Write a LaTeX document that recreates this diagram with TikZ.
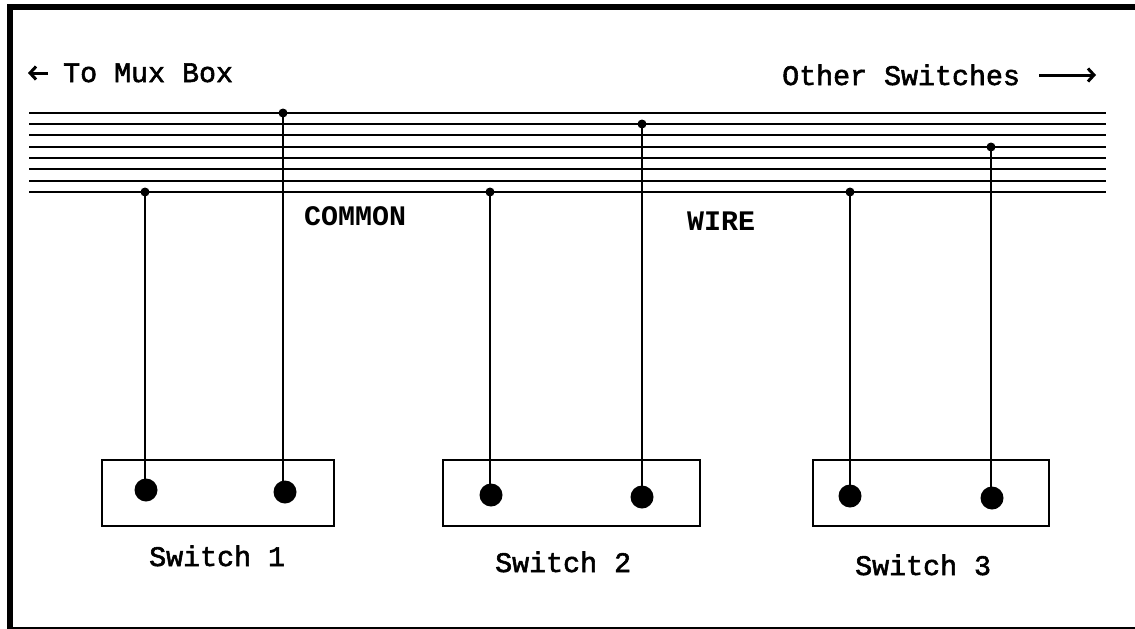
\documentclass[tikz,border=0pt]{standalone}
\usepackage{fontspec}
\setmainfont{Liberation Mono}
\newfontfamily\lightbold[FakeBold=2]{Liberation Mono}
\usetikzlibrary{arrows.meta}
\tikzset{
  x=1pt,y=-1pt,
  wire/.style={line width=2pt,black},
  drop/.style={line width=2pt,black},
  tap/.style={circle,fill=black,inner sep=0pt,minimum size=9pt},
  terminal/.style={circle,fill=black,inner sep=0pt,minimum size=23pt},
  swbox/.style={draw=black,line width=2pt,fill=none,inner sep=0pt},
  lab/.style={font=\lightbold\fontsize{28.3}{30}\selectfont,inner sep=0pt,anchor=base west},
  blab/.style={lab,font=\fontsize{28.3}{30}\selectfont\bfseries},
  arr/.style={line width=3pt,-{Straight Barb[length=6pt,width=13pt,line width=3pt]}}
}
\begin{document}
\begin{tikzpicture}
\useasboundingbox (0,0) rectangle (1135,629);
\fill[white] (0,0) rectangle (1135,629);
% frame
\fill[black] (7,4) rectangle (1135,10);
\fill[black] (7,4) rectangle (13,629);
\fill[black] (7,626.5) rectangle (1135,629);
% bus wires
\foreach \y in {113,124,135,147,158,169,181,192}
  \draw[wire] (29,\y) -- (1106,\y);
% labels
\node[lab] (tomux) at (63,82) {To Mux Box};
\node[lab] (other) at (782,85) {Other Switches};
\node[blab] (common) at (304,225) {COMMON};
\node[blab] (wirelab) at (687,230) {WIRE};
\node[lab] (s1) at (149,566) {Switch 1};
\node[lab] (s2) at (495,572) {Switch 2};
\node[lab] (s3) at (855,575) {Switch 3};
% arrows
\coordinate (la) at (48,73);
\coordinate (lb) at (28,73);
\coordinate (ra) at (1039,75);
\coordinate (rb) at (1096,75);
\draw[arr] (la) -- (lb);
\draw[arr] (ra) -- (rb);
% boxes
\node[swbox,minimum width=232pt,minimum height=66pt] (b1) at (218,493) {};
\node[swbox,minimum width=257pt,minimum height=66pt] (b2) at (571.5,493) {};
\node[swbox,minimum width=236pt,minimum height=66pt] (b3) at (931,493) {};
% terminals
\node[terminal] (t1) at (146,490) {};
\node[terminal] (t2) at (285,492) {};
\node[terminal] (t3) at (491,495) {};
\node[terminal] (t4) at (642,497) {};
\node[terminal] (t5) at (850,496) {};
\node[terminal] (t6) at (992,498) {};
% taps
\node[tap] (p1) at (145,192) {};
\node[tap] (p2) at (283,113) {};
\node[tap] (p3) at (490,192) {};
\node[tap] (p4) at (642,124) {};
\node[tap] (p5) at (850,192) {};
\node[tap] (p6) at (991,147) {};
% drops
\draw[drop] (p1.center) -- (p1.center |- t1.center);
\draw[drop] (p2.center) -- (p2.center |- t2.center);
\draw[drop] (p3.center) -- (p3.center |- t3.center);
\draw[drop] (p4.center) -- (p4.center |- t4.center);
\draw[drop] (p5.center) -- (p5.center |- t5.center);
\draw[drop] (p6.center) -- (p6.center |- t6.center);
\end{tikzpicture}
\end{document}
